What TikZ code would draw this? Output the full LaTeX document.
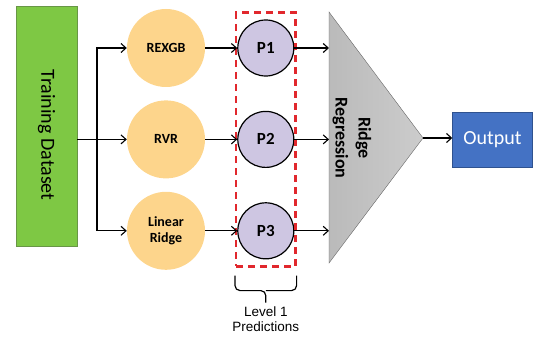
\documentclass[tikz,border=0pt]{standalone}
\usepackage{fontspec}
\setmainfont{Carlito}
\newfontfamily\arialfont{Liberation Sans}
\usepackage{graphicx}
\usetikzlibrary{positioning,arrows.meta,fit}
\definecolor{datagreen}{RGB}{126,200,68}
\definecolor{dataedge}{RGB}{104,150,70}
\definecolor{modelorange}{RGB}{253,213,140}
\definecolor{predlilac}{RGB}{206,198,226}
\definecolor{boxred}{RGB}{225,40,45}
\definecolor{outblue}{RGB}{68,114,196}
\definecolor{outedge}{RGB}{47,82,143}

\begin{document}
\begin{tikzpicture}[x=1pt, y=1pt,
  model/.style={circle, fill=modelorange, minimum size=78pt, inner sep=0pt, align=center,
    font=\fontsize{14}{16}\selectfont\bfseries},
  pred/.style={circle, draw, line width=1.2pt, fill=predlilac, minimum size=56pt, inner sep=0pt,
    font=\fontsize{17}{20}\selectfont\bfseries},
  arr/.style={-{Straight Barb[length=5pt,width=9pt]}, line width=1.1pt},
  bracket/.style={line width=1.2pt, rounded corners=5pt}
]
  \useasboundingbox (0,0) rectangle (533,338);

  \node[draw=dataedge, fill=datagreen, minimum width=61pt, minimum height=240pt, inner sep=0pt,
    font=\fontsize{20}{24}\selectfont] (data) at (46.5,212) {\rotatebox{-90}{\hspace*{18pt}Training Dataset}};

  \node[model] (rexgb) at (166,290) {REXGB};
  \node[model, below=13pt of rexgb] (rvr) {RVR};
  \node[model, below=13pt of rvr] (lin) {Linear\\Ridge};

  \node[pred, right=32pt of rexgb] (p1) {P1};
  \node[pred, right=32pt of rvr] (p2) {P2};
  \node[pred, right=32pt of lin] (p3) {P3};

  \node[draw=boxred, dash pattern=on 7pt off 5pt, line width=2.4pt, inner xsep=1pt, inner ysep=7pt,
    fit=(p1)(p3)] (preds) {};

  \draw[bracket] ([yshift=-8pt]preds.south west) |- ([yshift=-23pt]preds.south)
    -- ([yshift=-35pt]preds.south) node[below=0pt, align=center,
    font=\arialfont\fontsize{13.5}{15}\selectfont] (lvl) {Level 1\\Predictions};
  \draw[bracket] ([yshift=-8pt]preds.south east) |- ([yshift=-23pt]preds.south);

  \coordinate (tritop) at (329,326);
  \coordinate (tribot) at (329,75);
  \coordinate (triapex) at (423,200);
  \draw[draw=black!60, left color=black!27, right color=black!20] (tritop) -- (triapex) -- (tribot) -- cycle;
  \node[rotate=-90, align=center, font=\fontsize{18}{23}\selectfont\bfseries] (ridge) at (352,200) {Ridge\\Regression};

  \node[draw=outedge, fill=outblue, text=white, minimum width=80pt, minimum height=55pt,
    font=\fontsize{20}{24}\selectfont] (out) at (492.5,198) {Output};

  \coordinate (split) at (97,199);
  \draw[arr] (data.east |- rvr.west) -- (rvr);
  \draw[arr] (split) |- (rexgb);
  \draw[arr] (split) |- (lin);

  \draw[arr] (rexgb) -- (p1);
  \draw[arr] (rvr) -- (p2);
  \draw[arr] (lin) -- (p3);

  \draw[arr] (p1) -- (p1 -| tritop);
  \draw[arr] (p2) -- (p2 -| tritop);
  \draw[arr] (p3) -- (p3 -| tritop);

  \draw[arr] (triapex) -- (triapex -| out.west);
\end{tikzpicture}
\end{document}
